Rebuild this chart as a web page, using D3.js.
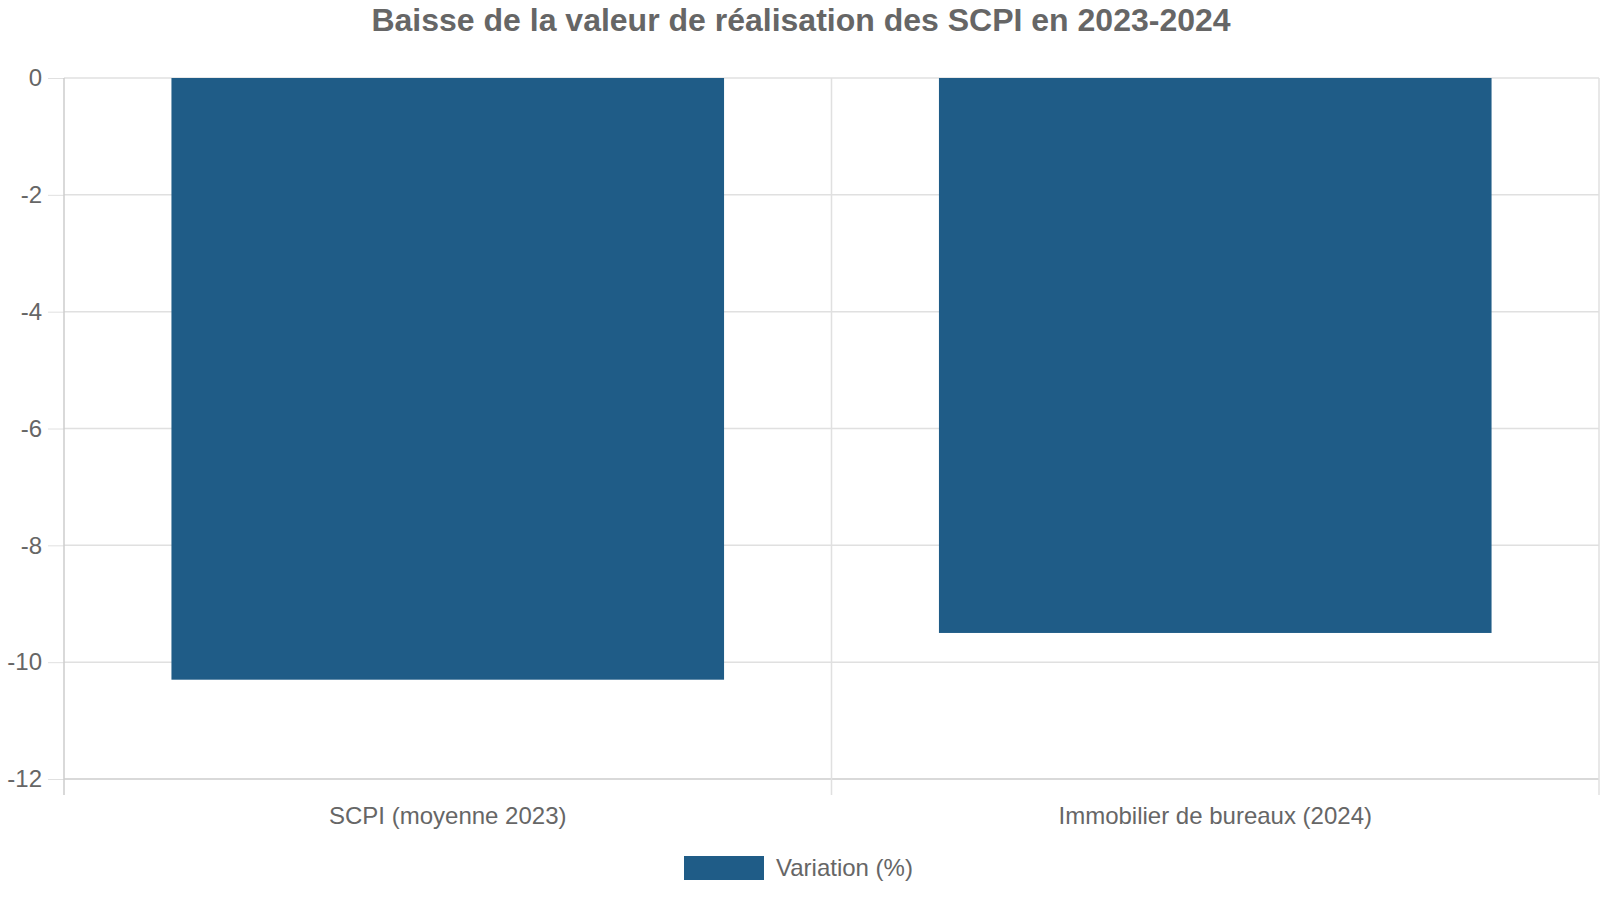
<!DOCTYPE html>
<html>
<head>
<meta charset="utf-8">
<script src="https://cdn.jsdelivr.net/npm/d3@7"></script>
<style>
  body { margin: 0; background: #fff; }
</style>
</head>
<body>
<div id="chart"></div>
<script>
var categories = ['SCPI (moyenne 2023)', 'Immobilier de bureaux (2024)'];
var values = [-10.3, -9.5];
var yTicks = [0, -2, -4, -6, -8, -10, -12];
var seriesName = 'Variation (%)';
var titleText = 'Baisse de la valeur de réalisation des SCPI en 2023-2024';

var width = 1600;
var height = 900;
var margin = { top: 78, right: 1, bottom: 121, left: 64 };
var barColour = '#1f5c87';
var gridColour = '#e0e0e0';
var axisColour = '#cccccc';
var textColour = '#666666';
var fontName = 'Arial, "Liberation Sans", Helvetica, sans-serif';

var svg = d3.select('#chart')
    .append('svg')
    .attr('width', width)
    .attr('height', height)
    .attr('font-family', fontName);

var innerW = width - margin.left - margin.right;
var innerH = height - margin.top - margin.bottom;

var x = d3.scaleBand()
    .domain(categories)
    .range([0, innerW])
    .paddingInner(0.28)
    .paddingOuter(0.14);

var y = d3.scaleLinear()
    .domain([-12, 0])
    .range([innerH, 0]);

var g = svg.append('g')
    .attr('transform', 'translate(' + margin.left + ',' + margin.top + ')');

// y ticks (labels use a plain hyphen like the original)
var yAxis = g.append('g')
    .call(d3.axisLeft(y).tickValues(yTicks).tickSize(16).tickPadding(6)
        .tickFormat(function(d) { return String(d); }));
yAxis.attr('font-family', fontName);
yAxis.select('.domain').remove();
yAxis.selectAll('.tick line').attr('stroke', gridColour);
yAxis.selectAll('.tick text')
    .attr('fill', textColour)
    .style('font-size', '24px');

// horizontal grid
g.append('g')
    .selectAll('line')
    .data(yTicks)
    .enter()
    .append('line')
    .attr('x1', 0)
    .attr('x2', innerW)
    .attr('y1', function(d) { return y(d); })
    .attr('y2', function(d) { return y(d); })
    .attr('stroke', function(d) { return d === -12 ? axisColour : gridColour; })
    .attr('stroke-width', 1.5);

// vertical grid lines at band edges
var edges = [0, innerW / 2, innerW];
g.append('g')
    .selectAll('line')
    .data(edges)
    .enter()
    .append('line')
    .attr('x1', function(d) { return d; })
    .attr('x2', function(d) { return d; })
    .attr('y1', 0)
    .attr('y2', innerH + 16)
    .attr('stroke', function(d, i) { return i === 0 ? axisColour : gridColour; })
    .attr('stroke-width', 1.5);

// bars
g.append('g')
    .selectAll('rect')
    .data(values)
    .enter()
    .append('rect')
    .attr('x', function(d, i) { return x(categories[i]); })
    .attr('width', x.bandwidth())
    .attr('y', y(0))
    .attr('height', function(d) { return y(d) - y(0); })
    .attr('fill', barColour);

// x labels
g.append('g')
    .selectAll('text')
    .data(categories)
    .enter()
    .append('text')
    .attr('x', function(d) { return x(d) + x.bandwidth() / 2; })
    .attr('y', innerH + 45)
    .attr('text-anchor', 'middle')
    .attr('fill', textColour)
    .style('font-size', '24px')
    .text(function(d) { return d; });

// title
svg.append('text')
    .attr('x', 801)
    .attr('y', 31)
    .attr('text-anchor', 'middle')
    .attr('fill', textColour)
    .style('font-size', '32px')
    .style('font-weight', 'bold')
    .text(titleText);

// legend
var legend = svg.append('g').attr('transform', 'translate(684,856)');
legend.append('rect')
    .attr('width', 80)
    .attr('height', 24)
    .attr('fill', barColour);
legend.append('text')
    .attr('x', 92)
    .attr('y', 20)
    .attr('fill', textColour)
    .style('font-size', '24px')
    .text(seriesName);
</script>
</body>
</html>
